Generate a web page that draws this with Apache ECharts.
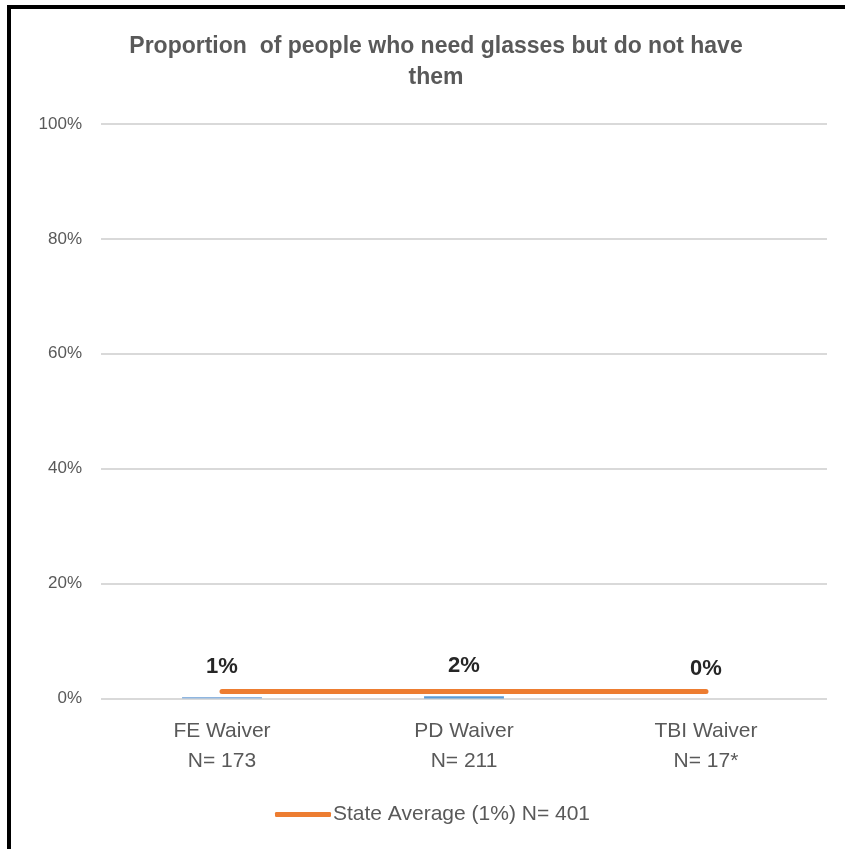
<!DOCTYPE html>
<html>
<head>
<meta charset="utf-8">
<script src="https://cdn.jsdelivr.net/npm/echarts@6/dist/echarts.min.js"></script>
<style>
html,body{margin:0;padding:0;background:#fff;}
#frame{position:absolute;left:7px;top:5px;width:838px;height:844px;border-left:4px solid #000;border-top:4px solid #000;box-sizing:border-box;}
#chart{position:absolute;left:0;top:0;width:845px;height:849px;}
</style>
</head>
<body>
<div id="chart"></div>
<div id="frame"></div>
<script>
const categories = ["FE Waiver\nN= 173", "PD Waiver\nN= 211", "TBI Waiver\nN= 17*"];
const barValues = [0.25, 0.4, 0];
const barLabels = ["1%", "2%", "0%"];
const stateAverage = [1.2, 1.2, 1.2];
const stateName = "State Average (1%) N= 401";
const yTicks = [0, 20, 40, 60, 80, 100];

const barColors = ["#8fb6e0", "#5b9bd5", "#5b9bd5"];
const font = "'Liberation Sans', sans-serif";

const chart = echarts.init(document.getElementById('chart'), null, {renderer: 'canvas'});
chart.setOption({
  animation: false,
  backgroundColor: '#fff',
  title: {
    text: 'Proportion  of people who need glasses but do not have\nthem',
    left: 431, top: 26, textAlign: 'center',
    textStyle: {fontFamily: font, fontSize: 23, fontWeight: 'bold', color: '#595959', lineHeight: 31}
  },
  grid: {left: 101, right: 18, top: 124, bottom: 150.5, containLabel: false},
  legend: {
    data: [stateName],
    left: 270, top: 799,
    itemWidth: 56, itemHeight: 5, itemGap: 4,
    icon: 'roundRect',
    textStyle: {fontFamily: font, fontSize: 21, color: '#595959', padding: [0,0,0,-3]}
  },
  xAxis: {
    type: 'category',
    data: categories,
    axisLine: {show: false},
    axisTick: {show: false},
    axisLabel: {fontFamily: font, fontSize: 21, color: '#595959', lineHeight: 30, margin: 18}
  },
  yAxis: {
    type: 'value', min: yTicks[0], max: yTicks[yTicks.length-1], interval: 20,
    axisLine: {show: false}, axisTick: {show: false},
    axisLabel: {formatter: v => v + '%', fontFamily: font, fontSize: 17, color: '#595959', margin: 19},
    splitLine: {lineStyle: {color: '#d9d9d9', width: 2}}
  },
  series: [
    {
      name: 'Proportion', type: 'bar', barWidth: '33%',
      data: barValues.map((v, i) => ({value: v, itemStyle: {color: barColors[i]}})),
      label: {
        show: true, position: 'top', distance: 19,
        formatter: p => barLabels[p.dataIndex],
        fontFamily: font, fontSize: 22, fontWeight: 'bold', color: '#262626'
      }
    },
    {
      name: stateName, type: 'line', data: stateAverage,
      symbol: 'none', z: 5,
      lineStyle: {color: '#ed7d31', width: 5, cap: 'round'},
      itemStyle: {color: '#ed7d31'}
    }
  ]
});
</script>
</body>
</html>
